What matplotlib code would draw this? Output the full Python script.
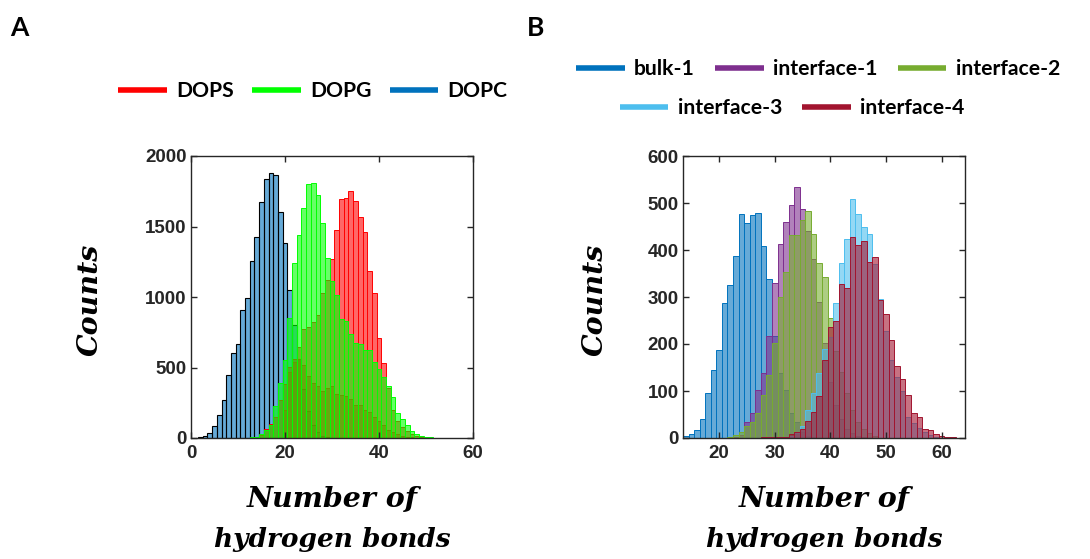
import matplotlib
matplotlib.use("Agg")
import matplotlib.pyplot as plt
from matplotlib.lines import Line2D
from matplotlib.colors import to_rgb

# ---------------- Panel A data (bin centre = number of H-bonds) ----------------
dopc_x = list(range(2, 30))
dopc_y = [5, 14, 36, 85, 165, 272, 446, 601, 670, 906, 993, 1255, 1429, 1675,
          1835, 1882, 1868, 1606, 1384, 1049, 800, 560, 350, 190, 90, 40, 15, 5]

dops_x = list(range(14, 51))
dops_y = [5, 20, 64, 100, 151, 269, 380, 470, 560, 646, 770, 786, 826, 873,
          1026, 1120, 1267, 1474, 1692, 1699, 1754, 1682, 1565, 1463, 1186,
          1025, 706, 534, 352, 199, 121, 80, 52, 30, 15, 8, 4]

dops2_x = list(range(20, 48))
dops2_y = [200, 505, 541, 560, 518, 440, 392, 368, 335, 356, 368, 311, 304,
           298, 274, 234, 234, 199, 182, 151, 120, 90, 60, 40, 25, 15, 8, 4]

dopg_x = list(range(12, 54))
dopg_y = [3, 5, 8, 26, 57, 92, 227, 387, 554, 849, 1238, 1439, 1634, 1804,
          1811, 1722, 1526, 1274, 1116, 1014, 841, 829, 741, 673, 667, 626,
          626, 540, 490, 431, 370, 293, 180, 132, 92, 52, 28, 14, 9, 5, 3, 2]

legend_A = ["DOPS", "DOPG", "DOPC"]

# ---------------- Panel B data ----------------
bulk1_x = list(range(14, 38))
bulk1_y = [5, 8, 16, 40, 96, 144, 188, 288, 325, 388, 476, 457, 475, 478,
           409, 338, 217, 138, 103, 53, 33, 12, 5, 2]

if1_x = list(range(22, 47))
if1_y = [1, 3, 7, 33, 53, 103, 138, 217, 329, 412, 460, 496, 533, 487, 440,
         380, 290, 202, 120, 70, 40, 20, 10, 5, 2]

if2_x = list(range(22, 49))
if2_y = [3, 6, 12, 25, 33, 53, 92, 135, 202, 301, 354, 432, 432, 464, 482,
         433, 373, 343, 255, 185, 140, 95, 60, 35, 20, 10, 5]

if3_x = list(range(31, 61))
if3_y = [2, 3, 5, 10, 25, 60, 95, 138, 190, 215, 288, 373, 423, 508, 476, 450,
         435, 370, 296, 228, 165, 130, 100, 45, 32, 22, 12, 7, 3, 1]

if4_x = list(range(27, 64))
if4_y = [1, 2, 2, 3, 3, 3, 8, 12, 20, 37, 55, 90, 166, 236, 248, 328, 319,
         427, 411, 420, 375, 386, 294, 264, 209, 154, 125, 92, 53, 44, 20, 17,
         8, 4, 3, 3, 1]

legend_B1 = ["bulk-1", "interface-1", "interface-2"]
legend_B2 = ["interface-3", "interface-4"]

# ---------------- style ----------------
C_RED = (1.0, 0.0, 0.0)
C_GRN = (0.0, 1.0, 0.0)
C_BLU = (0.0, 0.447, 0.741)
C_B1 = (0.0, 0.447, 0.741)
C_I1 = (0.494, 0.184, 0.556)
C_I2 = (0.466, 0.674, 0.188)
C_I3 = (0.301, 0.745, 0.933)
C_I4 = (0.635, 0.078, 0.184)
FA = 0.6
AX_COL = "#262626"

W, H = 1090, 559
fig = plt.figure(figsize=(W / 100, H / 100), dpi=100)


def ax_rect(l, t, r, b):
    return [l / W, 1 - b / H, (r - l) / W, (b - t) / H]


axA = fig.add_axes(ax_rect(191, 156, 473, 438))
axB = fig.add_axes(ax_rect(683, 156, 965, 438))


def hist(ax, x, y, col, edge=None, lw=0.7):
    ec = edge if edge is not None else col
    ax.bar(x, y, width=1.0, align="center",
           facecolor=(*to_rgb(col), FA), edgecolor=ec, linewidth=lw)


# Panel A layers (DOPG on top)
hist(axA, dopc_x, dopc_y, C_BLU, edge="black", lw=0.8)
hist(axA, dops2_x, dops2_y, C_RED)
hist(axA, dops_x, dops_y, C_RED)
hist(axA, dopg_x, dopg_y, C_GRN)

# Panel B layers
hist(axB, bulk1_x, bulk1_y, C_B1)
hist(axB, if1_x, if1_y, C_I1)
hist(axB, if2_x, if2_y, C_I2)
hist(axB, if3_x, if3_y, C_I3)
hist(axB, if4_x, if4_y, C_I4)

axA.set_xlim(0, 60)
axA.set_ylim(0, 2000)
axA.set_xticks([0, 20, 40, 60])
axA.set_yticks([0, 500, 1000, 1500, 2000])

axB.set_xlim(13.5, 64.2)
axB.set_ylim(0, 600)
axB.set_xticks([20, 30, 40, 50, 60])
axB.set_yticks([0, 100, 200, 300, 400, 500, 600])

for ax in (axA, axB):
    for s in ax.spines.values():
        s.set_color(AX_COL)
        s.set_linewidth(1.0)
    ax.tick_params(direction="in", length=4, width=1.0, top=True, right=True,
                   colors=AX_COL)
    ax.tick_params(axis="x", pad=5)
    ax.tick_params(axis="y", pad=3)
    for lab in ax.get_xticklabels() + ax.get_yticklabels():
        lab.set_fontfamily("Liberation Sans")
        lab.set_fontweight("bold")
        lab.set_fontsize(13.5)
        lab.set_color(AX_COL)

# axis titles (serif bold italic)
lab_font = dict(family="DejaVu Serif", style="italic", weight="bold")
fig.text(90 / W, 1 - 300 / H, "Counts", rotation=90, ha="center", va="center",
         size=20.5, **lab_font)
fig.text(595 / W, 1 - 300 / H, "Counts", rotation=90, ha="center", va="center",
         size=20.5, **lab_font)
for cx in (332, 824):
    fig.text(cx / W, 1 - 500 / H, "Number of", ha="center", va="center",
             size=20.5, **lab_font)
    fig.text(cx / W, 1 - 539 / H, "hydrogen bonds", ha="center", va="center",
             size=19, **lab_font)

# panel letters
fig.text(10 / W, 1 - 36 / H, "A", ha="left", va="baseline",
         family="Lato", weight="bold", size=19)
fig.text(527 / W, 1 - 36 / H, "B", ha="left", va="baseline",
         family="Lato", weight="bold", size=19)

# legends
leg_font = dict(family="Lato", weight="bold", size=15.2)


def make_leg(labels, colors, cx, cy, colsp):
    handles = [Line2D([], [], color=c, lw=4, solid_capstyle="butt") for c in colors]
    lg = fig.legend(handles, labels, loc="center", bbox_to_anchor=(cx / W, 1 - cy / H),
                    ncol=len(labels), frameon=False, borderpad=0, borderaxespad=0,
                    handlelength=2.3, handletextpad=0.45, columnspacing=colsp,
                    prop=leg_font)
    return lg


make_leg(legend_A, [C_RED, C_GRN, C_BLU], 313, 91, 0.85)
make_leg(legend_B1, [C_B1, C_I1, C_I2], 818, 69, 0.95)
make_leg(legend_B2, [C_I3, C_I4], 792, 108, 0.95)

fig.savefig("out.png", dpi=100)
